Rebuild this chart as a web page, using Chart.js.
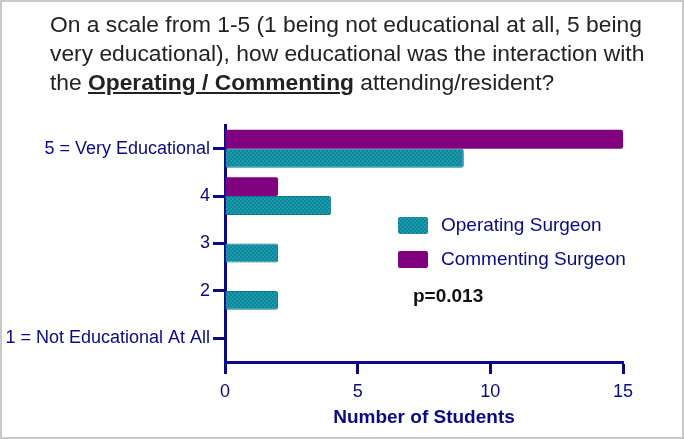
<!DOCTYPE html>
<html>
<head>
<meta charset="utf-8">
<script src="https://cdn.jsdelivr.net/npm/chart.js@4.4.1/dist/chart.umd.min.js"></script>
<style>
  html, body { margin: 0; padding: 0; background: #fff; }
  #marco { position: relative; width: 684px; height: 439px; box-sizing: border-box; border: 2px solid #c9c9c9; overflow: hidden; }
  #titulo { position: absolute; left: 48px; top: 8px; width: 630px; white-space: nowrap; font-family: "Liberation Sans", Arial, sans-serif; font-size: 22.8px; line-height: 29px; color: #222; }
  #titulo u { font-weight: bold; }
  #grafica { position: absolute; left: -2px; top: -2px; }
</style>
</head>
<body>
<div id="marco">
  <canvas id="grafica" width="684" height="439"></canvas>
  <div id="titulo">On a scale from 1-5 (1 being not educational at all, 5 being<br>very educational), how educational was the interaction with<br>the <u>Operating / Commenting</u> attending/resident?</div>
</div>
<script>
// ===================== DATOS =====================
const categorias = ['5 = Very Educational', '4', '3', '2', '1 = Not Educational At All'];
const valoresCommenting = [15, 2, 0, 0, 0];
const valoresOperating = [9, 4, 2, 2, 0];
const ticksX = [0, 5, 10, 15];
const textoP = 'p=0.013';

const AZUL = '#0a0a86';
const MORADO = '#800080';
const FUENTE = '"Liberation Sans", Arial, sans-serif';

// textura cuadriculada del cirujano operador
function crearTextura(){
  const c = document.createElement('canvas');
  c.width = 4; c.height = 4;
  const g = c.getContext('2d');
  g.fillStyle = '#1b9bad';
  g.fillRect(0, 0, 4, 4);
  g.fillStyle = '#0f8697';
  g.fillRect(0, 0, 2, 2);
  g.fillRect(2, 2, 2, 2);
  return g.createPattern(c, 'repeat');
}

// leyenda y valor p dentro del área de la gráfica
const leyendaInterna = {
  id: 'leyendaInterna',
  afterDraw(chart){
    const ctx = chart.ctx;
    const orden = [1, 0];
    ctx.save();
    orden.forEach((idx, i) => {
      const ds = chart.data.datasets[idx];
      const y = 217 + i * 34;
      ctx.fillStyle = ds.backgroundColor;
      ctx.beginPath();
      ctx.roundRect(398, y, 30, 17, 2);
      ctx.fill();
      ctx.font = '19px ' + FUENTE;
      ctx.fillStyle = AZUL;
      ctx.textBaseline = 'middle';
      ctx.textAlign = 'left';
      ctx.fillText(ds.label, 441, y + 9);
    });
    ctx.font = 'bold 19px ' + FUENTE;
    ctx.fillStyle = '#111';
    ctx.textBaseline = 'middle';
    ctx.fillText(textoP, 413, 297);
    ctx.restore();
  }
};

function inicializar(){
  const textura = crearTextura();
  new Chart(document.getElementById('grafica'), {
    type: 'bar',
    data: {
      labels: categorias,
      datasets: [
        {
          label: 'Commenting Surgeon',
          data: valoresCommenting,
          backgroundColor: MORADO,
          borderWidth: 0,
          borderRadius: 2,
          borderSkipped: 'start'
        },
        {
          label: 'Operating Surgeon',
          data: valoresOperating,
          backgroundColor: textura,
          borderColor: '#0b7b8c',
          borderWidth: c => (c.raw ? 1 : 0),
          borderRadius: 2,
          borderSkipped: 'start'
        }
      ]
    },
    options: {
      indexAxis: 'y',
      responsive: false,
      animation: false,
      categoryPercentage: 0.8,
      barPercentage: 1.0,
      layout: { padding: { top: 125, right: 61, left: 0, bottom: 0 } },
      plugins: {
        legend: { display: false },
        tooltip: { enabled: false }
      },
      scales: {
        x: {
          min: 0,
          max: 15,
          afterBuildTicks: s => { s.ticks = ticksX.map(v => ({ value: v })); },
          afterFit: s => { s.height = 77; },
          border: { display: true, color: AZUL, width: 3 },
          grid: { drawOnChartArea: false, drawTicks: true, tickLength: 12, tickWidth: 3, tickColor: AZUL },
          ticks: { color: AZUL, font: { family: FUENTE, size: 18 }, padding: 7 },
          title: { display: true, text: 'Number of Students', color: AZUL, font: { family: FUENTE, size: 19, weight: 'bold' }, padding: { top: 0, bottom: 10 } }
        },
        y: {
          afterFit: s => { s.width = 225; },
          border: { display: true, color: AZUL, width: 3 },
          grid: { offset: false, drawOnChartArea: false, drawTicks: true, tickLength: 12, tickWidth: 3, tickColor: AZUL },
          ticks: { color: AZUL, font: { family: FUENTE, size: 18 }, padding: 3 }
        }
      }
    },
    plugins: [leyendaInterna]
  });
}

document.addEventListener('DOMContentLoaded', inicializar);
</script>
</body>
</html>
